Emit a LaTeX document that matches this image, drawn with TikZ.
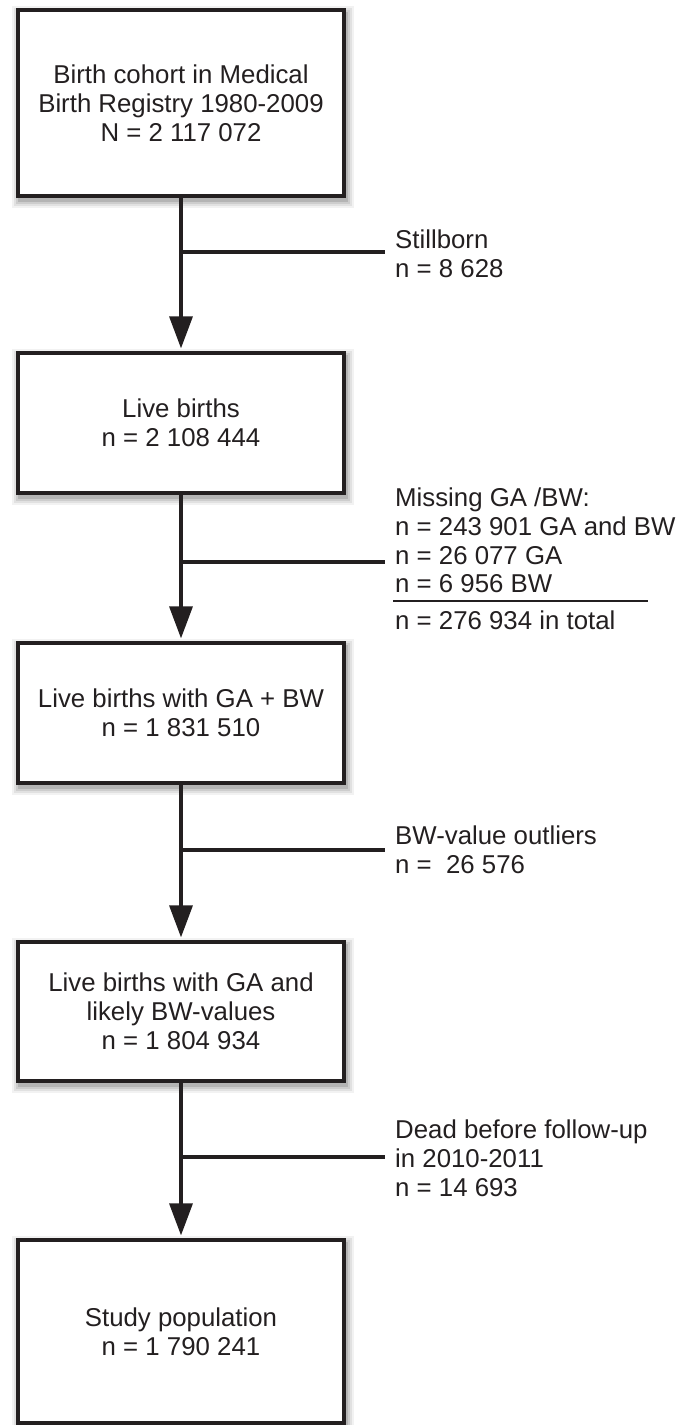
\documentclass[tikz,border=0pt]{standalone}
\usepackage{fontspec}
\setmainfont{Liberation Sans}
\usetikzlibrary{arrows.meta,backgrounds}
\definecolor{ink}{RGB}{35,31,32}
\begin{document}
\begin{tikzpicture}[x=1pt,y=-1pt,
  font=\fontsize{25.8pt}{28.8pt}\selectfont,
  box/.style={draw=ink, line width=3.2pt, fill=white, minimum width=326pt,
              inner sep=0pt, align=center, text=ink},
  flow/.style={draw=ink, line width=3.2pt, shorten >=3pt,
               -{Triangle[width=23pt,length=32pt]}},
  side/.style={draw=ink, line width=3.2pt},
  rulex/.style={draw=ink, line width=2pt},
  note/.style={anchor=west, inner sep=0pt, align=left, text=ink}]
\useasboundingbox (0,0) rectangle (682,1425);

% boxes
\node[box, minimum height=186pt] (b1) at (181,103)
  {Birth cohort in Medical\\Birth Registry 1980-2009\\N = 2 117 072};
\node[box, minimum height=140pt] (b2) at (181,423)
  {Live births\\n = 2 108 444};
\node[box, minimum height=140pt] (b3) at (181,713)
  {Live births with GA + BW\\n = 1 831 510};
\node[box, minimum height=139pt] (b4) at (181,1011.5)
  {Live births with GA and\\likely BW-values\\n = 1 804 934};
\node[box, minimum height=183pt] (b5) at (181,1331.5)
  {Study population\\n = 1 790 241};

% soft shadows
\begin{pgfonlayer}{background}
\foreach \n in {b1,b2,b3,b4,b5}{
  \foreach \e/\o in {6/0.05,4/0.07,2/0.09,0/0.12}{
    \fill[black,opacity=\o]
      ([shift={(2-\e,4+\e)}]\n.south west) rectangle ([shift={(2+\e,4-\e)}]\n.north east);
  }
}
\end{pgfonlayer}

% main arrows
\draw[flow] (b1.south) -- (b2.north);
\draw[flow] (b2.south) -- (b3.north);
\draw[flow] (b3.south) -- (b4.north);
\draw[flow] (b4.south) -- (b5.north);

% side branches
\coordinate (s1) at (181,252);  \coordinate (t1) at (385,252);
\coordinate (s2) at (181,562);  \coordinate (t2) at (385,562);
\coordinate (s3) at (181,850);  \coordinate (t3) at (385,850);
\coordinate (s4) at (181,1157); \coordinate (t4) at (385,1157);
\draw[side] (s1) -- (t1);
\draw[side] (s2) -- (t2);
\draw[side] (s3) -- (t3);
\draw[side] (s4) -- (t4);

% exclusion notes
\node[note] (x1) at (395,254) {Stillborn\\n = 8 628};
\node[note] (x2) at (395,540.5)
  {Missing GA /BW:\\n = 243 901 GA and BW\\n = 26 077 GA\\n = 6 956 BW};
\coordinate (r1) at (393,601); \coordinate (r2) at (648,601);
\draw[rulex] (r1) -- (r2);
\node[note] (x2b) at (395,620) {n = 276 934 in total};
\node[note] (x3) at (395,850) {BW-value outliers\\n =\ \ 26 576};
\node[note] (x4) at (395,1158.5) {Dead before follow-up\\in 2010-2011\\n = 14 693};
\end{tikzpicture}
\end{document}
